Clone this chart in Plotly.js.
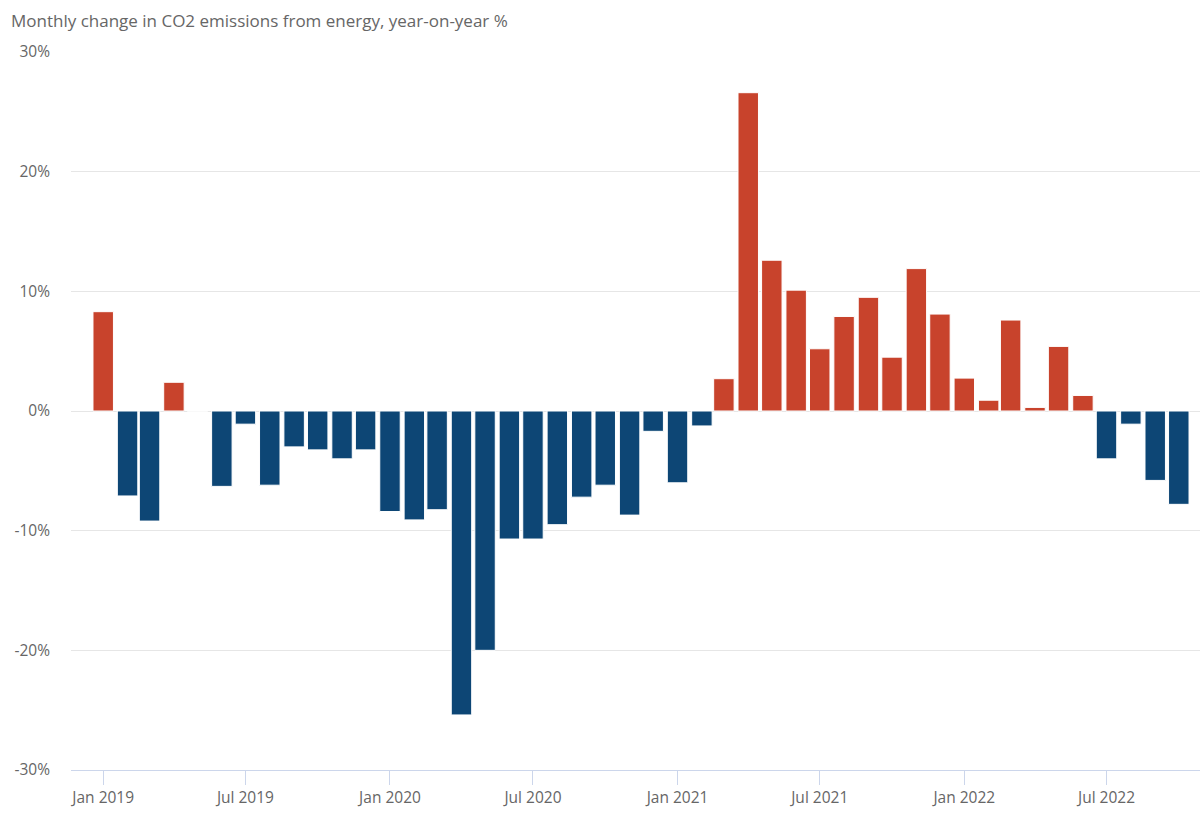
<!DOCTYPE html>
<html>
<head>
<meta charset="utf-8">
<script src="https://cdn.plot.ly/plotly-3.0.1.min.js"></script>
<style>
html,body{margin:0;padding:0;background:#fff;}
#chart{width:1200px;height:821px;}
</style>
</head>
<body>
<div id="chart"></div>
<script>
const months = [
 '2019-01','2019-02','2019-03','2019-04','2019-05','2019-06','2019-07','2019-08','2019-09','2019-10','2019-11','2019-12',
 '2020-01','2020-02','2020-03','2020-04','2020-05','2020-06','2020-07','2020-08','2020-09','2020-10','2020-11','2020-12',
 '2021-01','2021-02','2021-03','2021-04','2021-05','2021-06','2021-07','2021-08','2021-09','2021-10','2021-11','2021-12',
 '2022-01','2022-02','2022-03','2022-04','2022-05','2022-06','2022-07','2022-08','2022-09','2022-10'
];
const changePct = [
 8.3, -7.1, -9.2, 2.4, 0, -6.3, -1.1, -6.2, -3.0, -3.25, -4.0, -3.25,
 -8.4, -9.1, -8.25, -25.4, -20.0, -10.7, -10.7, -9.5, -7.2, -6.2, -8.7, -1.7,
 -6.0, -1.25, 2.7, 26.6, 12.6, 10.1, 5.2, 7.9, 9.5, 4.5, 11.9, 8.1,
 2.75, 0.9, 7.6, 0.3, 5.4, 1.3, -4.0, -1.1, -5.8, -7.8
];
const tickVals = ['2019-01-01','2019-07-01','2020-01-01','2020-07-01','2021-01-01','2021-07-01','2022-01-01','2022-07-01'];
const tickText = ['Jan 2019','Jul 2019','Jan 2020','Jul 2020','Jan 2021','Jul 2021','Jan 2022','Jul 2022'];
const yTicks = [-30,-20,-10,0,10,20,30];
const yTickText = ['-30%','-20%','-10%','0%','10%','20%','30%'];

const RED = '#c8432c', BLUE = '#0d4675';
const xDates = months.map(m => m + '-01');
const colors = changePct.map(v => v >= 0 ? RED : BLUE);

const trace = {
  type: 'bar',
  x: xDates,
  y: changePct,
  marker: {color: colors, line: {color: '#ffffff', width: 1}},
  hoverinfo: 'x+y'
};

const font = "'Open Sans', 'Noto Sans', sans-serif";
const layout = {
  width: 1200, height: 821,
  margin: {l: 71, r: 0, t: 52, b: 51},
  paper_bgcolor: '#ffffff', plot_bgcolor: '#ffffff',
  bargap: 0.07,
  showlegend: false,
  font: {family: font, size: 15, color: '#666666'},
  xaxis: {
    type: 'date',
    range: ['2018-11-21', '2022-10-28'],
    tickvals: tickVals, ticktext: tickText,
    ticks: 'outside', ticklen: 14, tickcolor: '#ccd6eb', tickwidth: 1,
    showline: true, linecolor: '#ccd6eb', linewidth: 1,
    showgrid: false, zeroline: false,
    tickfont: {family: font, size: 15.5, color: '#666666'},
    ticklabelstandoff: -1
  },
  yaxis: {
    range: [-30, 30],
    tickvals: yTicks, ticktext: yTickText,
    showgrid: true, gridcolor: '#e6e6e6', gridwidth: 1,
    zeroline: true, zerolinecolor: '#e6e6e6', zerolinewidth: 1,
    showline: false, ticks: '',
    tickfont: {family: font, size: 15.5, color: '#666666'},
    ticklabelstandoff: 20
  },
  annotations: [{
    text: 'Monthly change in CO2 emissions from energy, year-on-year %',
    xref: 'paper', yref: 'paper', x: 0, y: 1,
    xanchor: 'left', yanchor: 'bottom', xshift: -62, yshift: 18,
    showarrow: false,
    font: {family: font, size: 17, color: '#666666'}
  }]
};

Plotly.newPlot('chart', [trace], layout, {displayModeBar: false, staticPlot: true});
</script>
</body>
</html>
